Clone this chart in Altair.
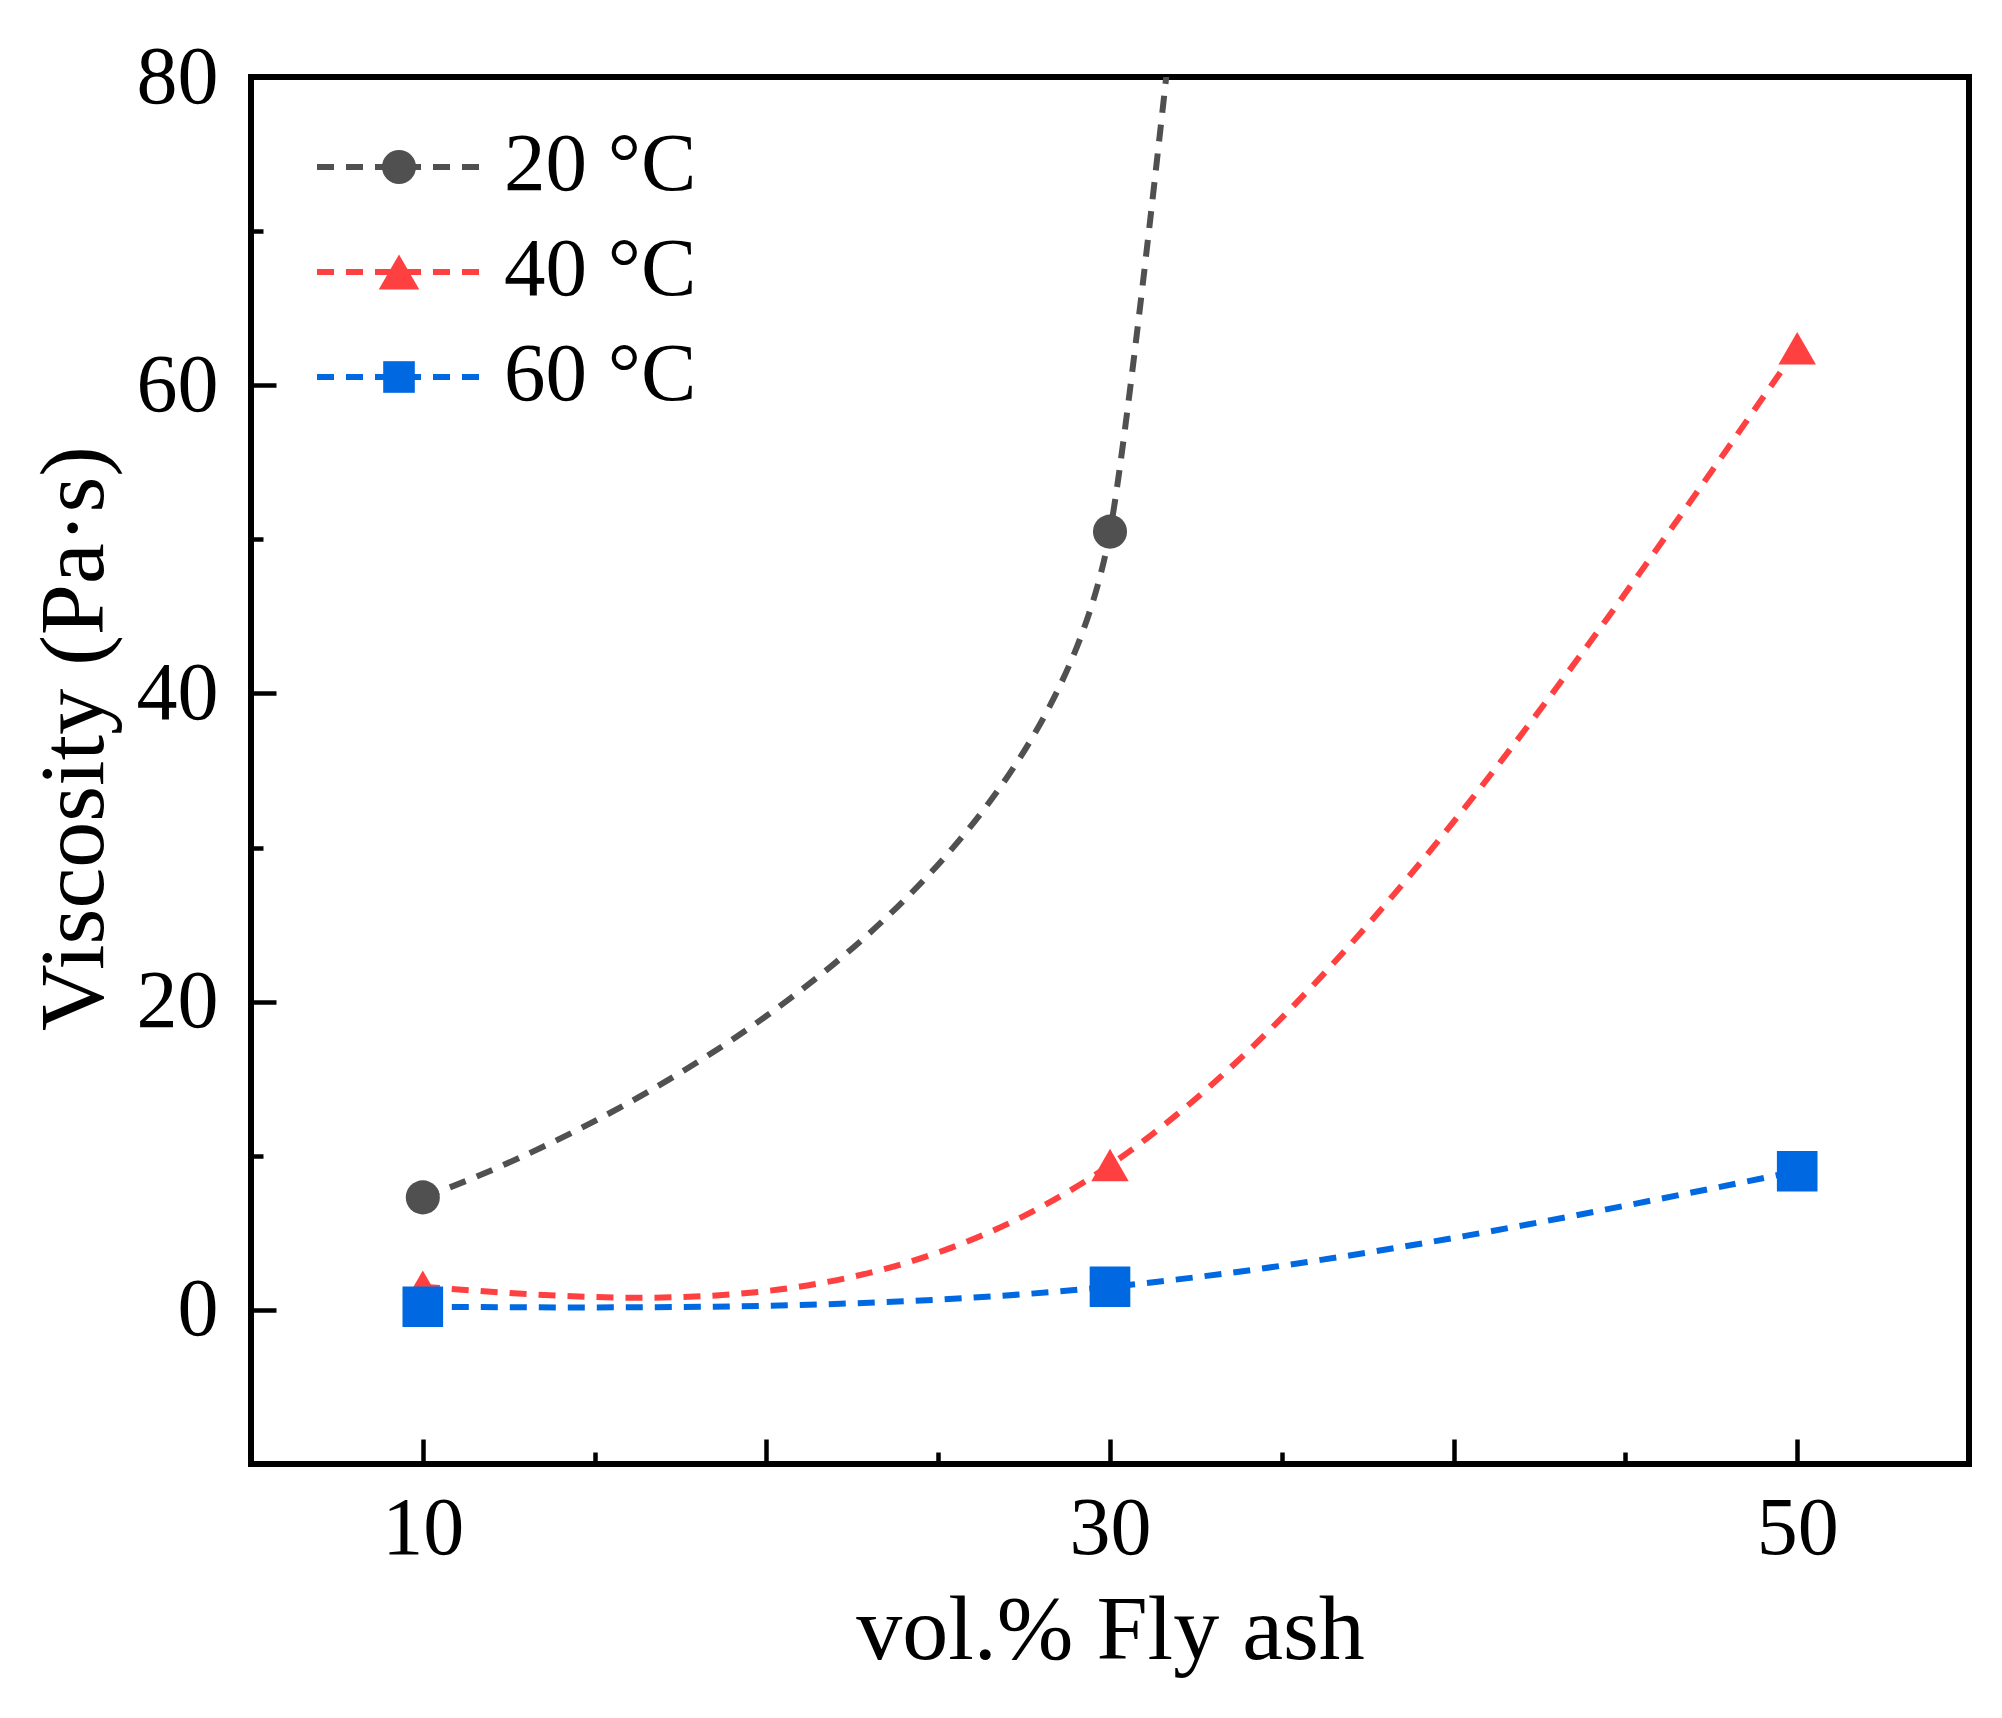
import altair as alt
import pandas as pd

# fly ash content (vol.%) and viscosity (Pa·s) for each temperature
ASH = [10, 30, 50]
VISC_20C = [7.3, 50.5, 500]   # last point lies far above the plotted range
VISC_40C = [1.5, 9.4, 62.4]
VISC_60C = [0.2, 1.5, 9.0]

SERIES = ["20 °C", "40 °C", "60 °C"]
COLORS = ["#505050", "#FF4040", "#0068E0"]
SHAPES = ["circle", "triangle-up", "square"]
SIZES = [1160, 1650, 1000]

X_LABELS = [10, 30, 50]
X_MAJOR = [10, 20, 30, 40, 50]
X_MINOR = [15, 25, 35, 45]
Y_LABELS = [0, 20, 40, 60, 80]
Y_MINOR = [10, 30, 50, 70]

W, H = 1718, 1387
FONT = "Liberation Serif"
DASH = [17, 12]
LINE_W = 6


def build_frame():
    rows = []
    for name, vals in zip(SERIES, [VISC_20C, VISC_40C, VISC_60C]):
        for a, v in zip(ASH, vals):
            rows.append({"ash": a, "visc": v, "series": name})
    return pd.DataFrame(rows)


df = build_frame()
xs = alt.Scale(domain=[5, 55], nice=False, zero=False)
ys = alt.Scale(domain=[-10, 80], nice=False, zero=False)
color = alt.Color("series:N", scale=alt.Scale(domain=SERIES, range=COLORS), legend=None)


def tick_axis(orient, offset, values, size):
    # axis moved onto the opposite edge so its ticks point into the plot
    return alt.Axis(orient=orient, offset=offset, values=values, labels=False, domain=False,
                    grid=False, tickSize=size, tickWidth=4.5, tickColor="black", title=None)


x_label_axis = alt.Axis(
    orient="bottom", values=X_LABELS, ticks=False, tickSize=0, domain=False, grid=False,
    labelFont=FONT, labelFontSize=82, labelColor="black", labelBaseline="alphabetic",
    labelPadding=89, title="vol.% Fly ash", titleFont=FONT, titleFontSize=92,
    titleFontWeight="normal", titleColor="black", titleX=W / 2, titleY=194,
    titleBaseline="alphabetic", titleAlign="center",
)
y_label_axis = alt.Axis(
    orient="left", values=Y_LABELS, ticks=False, tickSize=0, domain=False, grid=False,
    labelFont=FONT, labelFontSize=82, labelColor="black", labelPadding=33,
    title="Viscosity (Pa·s)", titleFont=FONT, titleFontSize=92, titleFontWeight="normal",
    titleColor="black", titleX=-149, titleY=661, titleAngle=270,
    titleBaseline="alphabetic", titleAlign="center",
)

base = alt.Chart(df)

lines_rb = base.transform_filter(alt.datum.series != SERIES[0]).mark_line(
    interpolate="natural", strokeDash=DASH, strokeWidth=LINE_W, clip=True
).encode(
    x=alt.X("ash:Q", scale=xs, axis=x_label_axis),
    y=alt.Y("visc:Q", scale=ys, axis=y_label_axis),
    color=color,
    detail="series:N",
)

line_gray = base.transform_filter(alt.datum.series == SERIES[0]).mark_line(
    interpolate="cardinal", tension=0.635, strokeDash=DASH, strokeWidth=LINE_W, clip=True
).encode(
    x=alt.X("ash:Q", scale=xs, axis=tick_axis("top", -H, X_MAJOR, 25)),
    y=alt.Y("visc:Q", scale=ys, axis=tick_axis("right", -W, Y_LABELS, 25)),
    color=color,
)

points = base.mark_point(filled=True, opacity=1, strokeWidth=0, clip=True).encode(
    x=alt.X("ash:Q", scale=xs, axis=tick_axis("top", -H, X_MINOR, 12)),
    y=alt.Y("visc:Q", scale=ys, axis=tick_axis("right", -W, Y_MINOR, 12)),
    color=color,
    shape=alt.Shape("series:N", scale=alt.Scale(domain=SERIES, range=SHAPES), legend=None),
    size=alt.Size("series:N", scale=alt.Scale(domain=SERIES, range=SIZES), legend=None),
)

legend_layers = []
for i, name in enumerate(SERIES):
    yc = 90 + 105 * i
    ldf = pd.DataFrame({"series": [name]})
    legend_layers.append(alt.Chart(ldf).mark_rule(strokeDash=DASH, strokeWidth=LINE_W, color=COLORS[i]).encode(
        x=alt.value(66), x2=alt.value(232), y=alt.value(yc)))
    legend_layers.append(alt.Chart(ldf).mark_point(shape=SHAPES[i], filled=True, opacity=1, strokeWidth=0,
                                                   size=SIZES[i], color=COLORS[i]).encode(
        x=alt.value(148), y=alt.value(yc)))
    legend_layers.append(alt.Chart(ldf).mark_text(align="left", baseline="alphabetic", font=FONT,
                                                  fontSize=83, color="black").encode(
        x=alt.value(253), y=alt.value(yc + 23), text="series:N"))

chart = alt.layer(lines_rb, line_gray, points, *legend_layers).resolve_axis(
    x="independent", y="independent"
).properties(
    width=W, height=H,
    padding={"left": 243, "top": 69, "right": 25, "bottom": 246},
    autosize=alt.AutoSizeParams(type="none"),
).configure_view(stroke="black", strokeWidth=6)

chart.save("out.html", embed_options={"renderer": "svg", "actions": False})
